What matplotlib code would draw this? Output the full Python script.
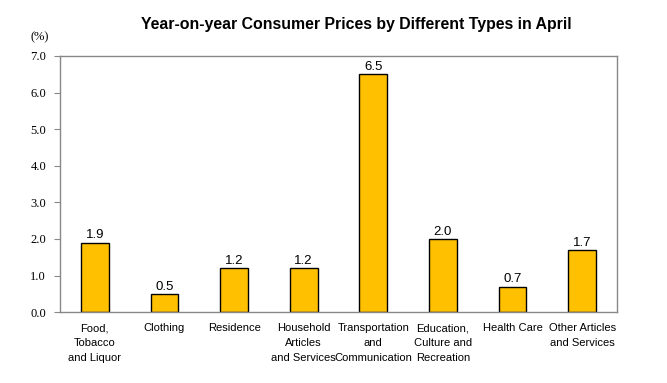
import numpy as np
import matplotlib.pyplot as plt

categories = ['Food,\nTobacco\nand Liquor', 'Clothing', 'Residence',
              'Household\nArticles\nand Services', 'Transportation\nand\nCommunication',
              'Education,\nCulture and\nRecreation', 'Health Care',
              'Other Articles\nand Services']
values = [1.9, 0.5, 1.2, 1.2, 6.5, 2.0, 0.7, 1.7]
yticks = [0.0, 1.0, 2.0, 3.0, 4.0, 5.0, 6.0, 7.0]

fig = plt.figure(figsize=(6.67, 3.83), dpi=100)
ax = fig.add_axes([0.09, 0.185, 0.835, 0.669])

x = np.arange(len(categories))
bars = ax.bar(x, values, width=0.4, color='#FFC000', edgecolor='black', linewidth=1)

for b, v in zip(bars, values):
    ax.text(b.get_x() + b.get_width() / 2, v + 0.03, f'{v:.1f}', ha='center', va='bottom',
            fontsize=9.5, family='Liberation Sans')

ax.set_xlim(-0.5, len(categories) - 0.5)
ax.set_ylim(0, 7)
ax.set_yticks(yticks)
ax.set_yticklabels([f'{t:.1f}' for t in yticks], family='Liberation Serif', fontsize=9)
ax.set_xticks(x)
ax.set_xticklabels(categories, family='Liberation Sans', fontsize=8, linespacing=1.6, va='top')
ax.tick_params(axis='x', length=0, pad=8)
ax.tick_params(axis='y', length=4, width=0.8, color='#888888', pad=6)
for s in ax.spines.values():
    s.set_color('#888888')
    s.set_linewidth(1)

fig.text(356 / 667, 1 - 25 / 383, 'Year-on-year Consumer Prices by Different Types in April',
         ha='center', va='center', fontsize=11.4, fontweight='bold', family='Liberation Sans')
fig.text(40 / 667, 1 - 37 / 383, '(%)', ha='center', va='center', fontsize=9,
         family='Liberation Serif')

fig.savefig('out.png', dpi=100)
